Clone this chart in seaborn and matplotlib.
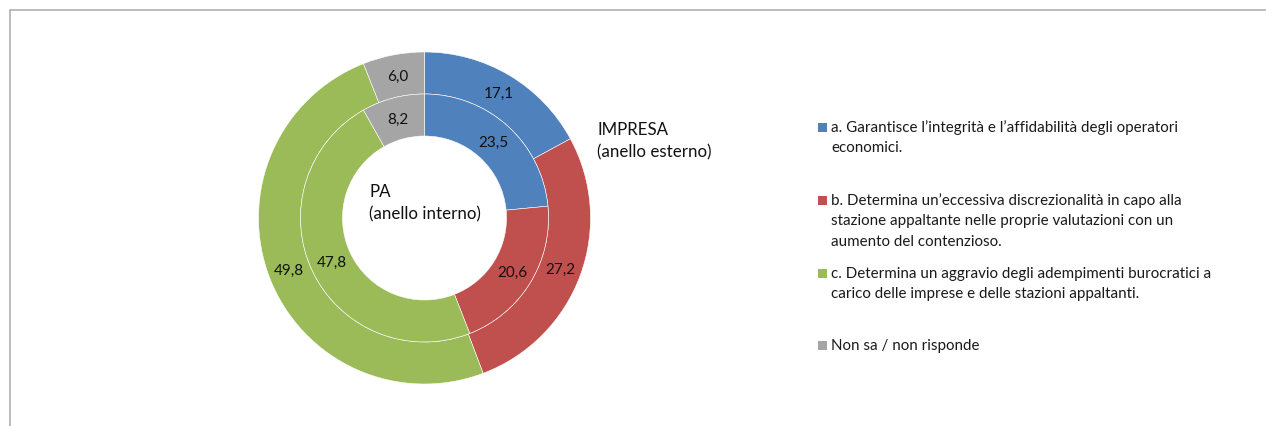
import matplotlib
matplotlib.use("Agg")
import matplotlib.pyplot as plt
from matplotlib.lines import Line2D
from matplotlib.patches import Rectangle
import seaborn as sns

# ---- data ----
categories = [
    "a. Garantisce l\u2019integrit\u00e0 e l\u2019affidabilit\u00e0 degli operatori\neconomici.",
    "b. Determina un\u2019eccessiva discrezionalit\u00e0 in capo alla\nstazione appaltante nelle proprie valutazioni con un\naumento del contenzioso.",
    "c. Determina un aggravio degli adempimenti burocratici a\ncarico delle imprese e delle stazioni appaltanti.",
    "Non sa / non risponde",
]
impresa_values = [17.1, 27.2, 49.8, 6.0]   # outer ring
pa_values = [23.5, 20.6, 47.8, 8.2]        # inner ring
colors = ["#4F81BD", "#C0504D", "#9BBB59", "#A5A5A5"]

sns.set_theme(style="white")
plt.rcParams["font.family"] = ["Lato", "DejaVu Sans"]

W, H = 1266, 427
fig = plt.figure(figsize=(W / 100, H / 100), dpi=100)
fig.patch.set_facecolor("white")
ax = fig.add_axes([0, 0, 1, 1])

cx, cy = 424.5, H - 219
R_out, R_mid, R_hole = 166, 124, 82

def fmt(v):
    return f"{v:.1f}".replace(".", ",")

txt = dict(ha="center", va="center", fontsize=11, color="#111111")

ax.pie(impresa_values, colors=colors, startangle=90, counterclock=False,
       radius=R_out, center=(cx, cy),
       labels=[fmt(v) for v in impresa_values],
       labeldistance=((R_out + R_mid) / 2) / R_out,
       textprops=txt,
       wedgeprops=dict(width=R_out - R_mid, edgecolor="white", linewidth=0.4))
ax.pie(pa_values, colors=colors, startangle=90, counterclock=False,
       radius=R_mid, center=(cx, cy),
       labels=[fmt(v) for v in pa_values],
       labeldistance=((R_mid + R_hole) / 2) / R_mid,
       textprops=txt,
       wedgeprops=dict(width=R_mid - R_hole, edgecolor="white", linewidth=0.4))

ax.set_xlim(0, W)
ax.set_ylim(0, H)
ax.set_aspect("equal")
ax.axis("off")

# ring titles
title_kw = dict(ha="left", va="center", fontsize=12.2, color="#111111")
ax.text(369, H - 192, "PA", **title_kw)
ax.text(369, H - 214, "(anello interno)", **title_kw)
ax.text(597, H - 130, "IMPRESA", **title_kw)
ax.text(597, H - 152, "(anello esterno)", **title_kw)

# legend (manual layout to match reference spacing)
first_line_y = [128, 201, 274, 346]
line_h = 20.3
for cat, col, y0 in zip(categories, colors, first_line_y):
    ax.add_patch(Rectangle((818, H - y0 - 4.5), 9, 9, facecolor=col, edgecolor="none"))
    for i, line in enumerate(cat.split("\n")):
        ax.text(831, H - (y0 + i * line_h), line, ha="left", va="center",
                fontsize=10.9, color="#1a1a1a")

# chart frame (top and left edges)
fig.add_artist(Line2D([10 / W, 1.0], [1 - 11 / H, 1 - 11 / H], color="#B0B0B0", lw=1.2))
fig.add_artist(Line2D([10 / W, 10 / W], [0, 1 - 11 / H], color="#B0B0B0", lw=1.2))

fig.savefig("out.png", dpi=100)
